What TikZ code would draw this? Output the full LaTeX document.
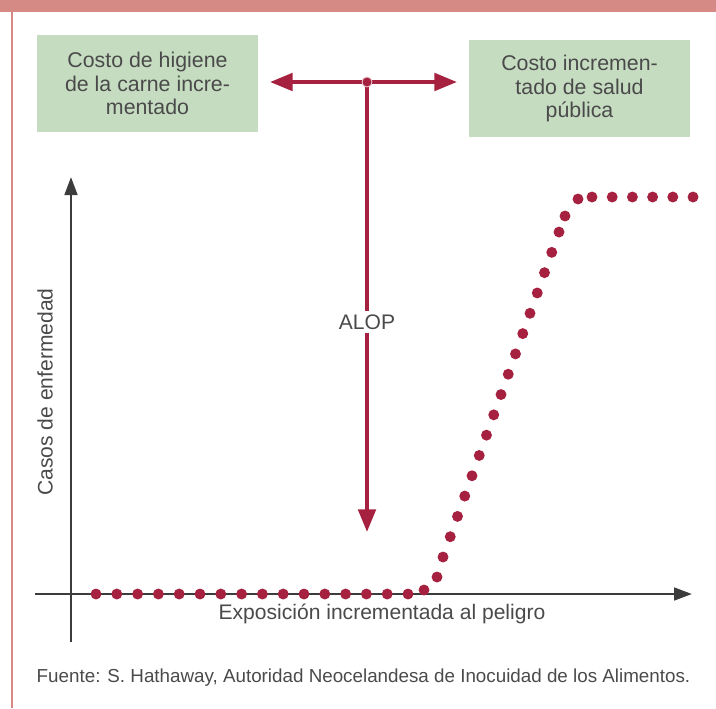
\documentclass[tikz,border=0pt]{standalone}
\usepackage{fontspec}
\setmainfont{Liberation Sans}
\usetikzlibrary{arrows.meta}

\definecolor{alopred}{HTML}{A6213F}
\definecolor{boxgreen}{HTML}{C6DCC1}
\definecolor{framepink}{HTML}{D58A86}
\definecolor{axisgray}{HTML}{3C3C3C}
\definecolor{textgray}{HTML}{4A4A4A}

\tikzset{every picture/.style={line width=0.75pt}}

\begin{document}
\begin{tikzpicture}[x=0.75pt,y=0.75pt,yscale=-1,xscale=1,
  costbox/.style={fill=boxgreen, minimum width=165.75pt, minimum height=72.75pt, inner sep=0pt, align=center, text=textgray, font=\fontsize{16}{17.6}\selectfont},
  lbl/.style={text=textgray, font=\fontsize{15.8}{18}\selectfont},
  aloparrow/.style={draw=alopred, line width=3pt, -{Triangle[length=17pt,width=13pt]}},
  axisarrow/.style={draw=axisgray, line width=2pt, -{Triangle[length=13.5pt,width=9.5pt]}},
  dotcol/.style={fill=alopred}]
\useasboundingbox (0,0) rectangle (716,708);

%Shape: Rectangle [top bar]
\fill[framepink] (0,0) rectangle (716,12);
%Straight Lines [left border]
\draw[framepink, line width=1.7pt] (12.2,12) -- (12.2,708);

% Text Node
\node[costbox] (higiene) at (147.5,83.5) {Costo de higiene\\de la carne incre-\\mentado};
% Text Node
\node[costbox] (salud) at (579.5,88.5) {Costo incremen-\\tado de salud\\pública};

%Straight Lines [axes]
\coordinate (xstart) at (35,594);
\coordinate (xend) at (692,594);
\coordinate (ystart) at (71,642);
\coordinate (yend) at (71,177);
\draw[axisarrow] (xstart) -- (xend);
\draw[axisarrow] (ystart) -- (yend);

% Text Node
\node[lbl, rotate=90] (casos) at (45,392) {Casos de enfermedad};
% Text Node
\node[lbl] (exposicion) at (382,614) {Exposición incrementada al peligro};

%Shape: Circle [dots]
\foreach \i in {0,...,15}
  \fill[dotcol] (96+20.8*\i,594) circle (4.1pt);
\foreach \p in {(424,590),(437,577),(565,216),(578,199)}
  \fill[dotcol] \p circle (4.1pt);
\foreach \i in {0,...,16}
  \fill[dotcol] (443+7.25*\i,557-20.31*\i) circle (4.1pt);
\foreach \i in {0,...,5}
  \fill[dotcol] (592+20.2*\i,197) circle (4.1pt);

%Straight Lines [ALOP arrows]
\node[circle, fill=alopred, draw=alopred!25, line width=0.6pt, inner sep=0pt, minimum size=7.5pt] (junction) at (367,82) {};
\coordinate (leftend) at (270,82);
\coordinate (rightend) at (457,82);
\coordinate (downend) at (367,532);
\node[lbl, inner sep=2pt] (alop) at (367,322) {ALOP};
\draw[aloparrow] (junction) -- (leftend);
\draw[aloparrow] (junction) -- (rightend);
\draw[draw=alopred, line width=3pt] (junction) -- (alop);
\draw[aloparrow] (alop) -- (downend);
\node[circle, fill=alopred, draw=alopred!25, line width=0.6pt, inner sep=0pt, minimum size=7.5pt] at (junction) {};

% Text Node
\node[text=textgray, font=\fontsize{14.1}{16}\selectfont] (fuente) at (363.5,678) {Fuente: S. Hathaway, Autoridad Neocelandesa de Inocuidad de los Alimentos.};

\end{tikzpicture}
\end{document}
